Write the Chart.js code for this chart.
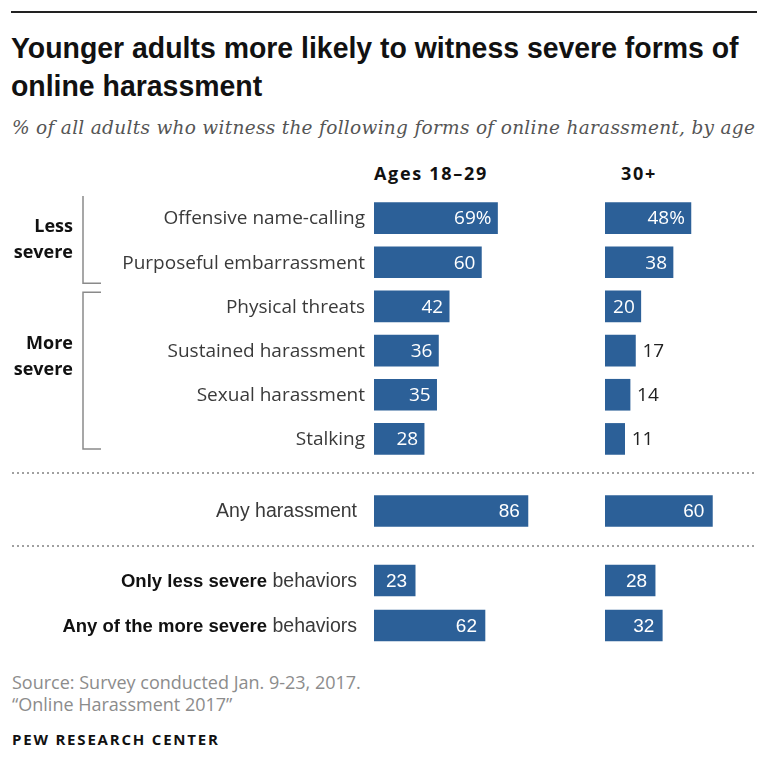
<!DOCTYPE html>
<html>
<head>
<meta charset="utf-8">
<script src="https://cdn.jsdelivr.net/npm/chart.js@4.4.1/dist/chart.umd.min.js"></script>
<style>
  body { margin: 0; width: 757px; height: 770px; overflow: hidden; background: #fff; position: relative; font-family: "Open Sans", sans-serif; }
  .abs { position: absolute; white-space: nowrap; }
  #rule { left: 11px; top: 11px; width: 746px; height: 2px; background: #222; }
  #title { left: 11px; top: 29px; font: bold 29px/38px "Liberation Sans", sans-serif; color: #111;
           transform: scaleX(0.98); transform-origin: 0 0; }
  #subtitle { left: 12px; top: 117px; font: italic 18.5px "DejaVu Serif", serif; letter-spacing: 0.3px; color: #555; }
  .colhead { top: 161px; font: bold 18px "Open Sans", sans-serif; letter-spacing: 1.7px; color: #111; }
  .dots { left: 12px; width: 745px; height: 2px;
          background-image: linear-gradient(to right, #a0a0a0 2px, transparent 2px); background-size: 5px 2px; }
  #source { left: 12px; top: 671px; font: 18px/22px "Open Sans", sans-serif; color: #8c8c8c; }
  #brand { left: 12px; top: 729px; font: bold 15px "Open Sans", sans-serif; letter-spacing: 1.8px; color: #111; }
  canvas { position: absolute; }
</style>
</head>
<body>
<div id="rule" class="abs"></div>
<div id="title" class="abs">Younger adults more likely to witness severe forms of<br>online harassment</div>
<div id="subtitle" class="abs">% of all adults who witness the following forms of online harassment, by age</div>
<div id="head0" class="abs colhead" style="left:374px"></div>
<div id="head1" class="abs colhead" style="left:621px"></div>

<canvas id="formsYoung" width="553" height="265" style="left:0;top:196px"></canvas>
<canvas id="formsOlder" width="179" height="265" style="left:605px;top:196px"></canvas>
<div class="abs dots" style="top:472px"></div>
<canvas id="anyYoung" width="553" height="44" style="left:0;top:489px"></canvas>
<canvas id="anyOlder" width="179" height="44" style="left:605px;top:489px"></canvas>
<div class="abs dots" style="top:545px"></div>
<canvas id="mixYoung" width="553" height="90" style="left:0;top:558px"></canvas>
<canvas id="mixOlder" width="179" height="90" style="left:605px;top:558px"></canvas>

<div id="source" class="abs">Source: Survey conducted Jan. 9-23, 2017.<br>“Online Harassment 2017”</div>
<div id="brand" class="abs">PEW RESEARCH CENTER</div>

<script>
// age columns
const ageGroups = ['Ages 18–29', '30+'];

// individual forms of harassment witnessed
const formLabels = ['Offensive name-calling', 'Purposeful embarrassment', 'Physical threats',
                    'Sustained harassment', 'Sexual harassment', 'Stalking'];
const formsYoung = [69, 60, 42, 36, 35, 28];
const formsOlder = [48, 38, 20, 17, 14, 11];

// any form at all
const anyLabels = ['Any harassment'];
const anyYoung = [86];
const anyOlder = [60];

// severity mix (bold part, plain part)
const mixLabels = [
  [['Only less severe', true], [' behaviors', false]],
  [['Any of the more severe', true], [' behaviors', false]]
];
const mixYoung = [23, 62];
const mixOlder = [28, 32];

// severity brackets over the forms rows
const severityGroups = [
  { name: ['Less', 'severe'], from: 0, to: 1 },
  { name: ['More', 'severe'], from: 2, to: 5 }
];

const BAR_COLOR = '#2c6098';
const LABEL_AREA = 374;   // width reserved left of the young bars
const X_MAX = 100;
const MIN_INSIDE = 20;    // smaller values get their label outside the bar
const groupLabelNudge = [0, -16];

document.getElementById('head0').textContent = ageGroups[0];
document.getElementById('head1').textContent = ageGroups[1];

// draws row labels, value labels and the severity brackets
function rowTextPlugin(labels, values, style) {
  return {
    id: 'rowText',
    afterDatasetsDraw(chart) {
      const ctx = chart.ctx;
      const area = chart.chartArea;
      const yScale = chart.scales.y;
      const bars = chart.getDatasetMeta(0).data;
      ctx.save();
      ctx.textBaseline = 'middle';

      if (labels) {
        labels.forEach((lab, i) => {
          const parts = typeof lab === 'string' ? [[lab, false]] : lab;
          let x = area.left - style.labelGap;
          const y = yScale.getPixelForValue(i) + 1;
          ctx.textAlign = 'right';
          for (let p = parts.length - 1; p >= 0; p--) {
            const [txt, bold] = parts[p];
            ctx.font = bold ? style.boldFont : style.labelFont;
            ctx.fillStyle = bold ? '#111' : '#3a3a3a';
            ctx.fillText(txt, x, y);
            x -= ctx.measureText(txt).width;
          }
        });
      }

      bars.forEach((bar, i) => {
        const v = values[i];
        const txt = (i === 0 && style.percentFirst) ? v + '%' : String(v);
        ctx.font = style.valueFont;
        if (v >= MIN_INSIDE) {
          ctx.fillStyle = '#fff';
          ctx.textAlign = 'right';
          ctx.fillText(txt, bar.x - style.valuePad, bar.y + 1);
        } else {
          ctx.fillStyle = '#222';
          ctx.textAlign = 'left';
          ctx.fillText(txt, bar.x + 7, bar.y + 1);
        }
      });

      if (style.groups) {
        const n = labels.length;
        const step = yScale.getPixelForValue(1) - yScale.getPixelForValue(0);
        ctx.strokeStyle = '#8a8a8a';
        ctx.lineWidth = 1.5;
        style.groups.forEach((g, gi) => {
          const top = g.from === 0 ? yScale.getPixelForValue(0) - 25 : yScale.getPixelForValue(g.from) - step / 2 + 8;
          const bot = g.to === n - 1 ? yScale.getPixelForValue(g.to) + 10 : yScale.getPixelForValue(g.to) + step / 2 - 1;
          ctx.beginPath();
          ctx.moveTo(101, top); ctx.lineTo(83, top); ctx.lineTo(83, bot); ctx.lineTo(101, bot);
          ctx.stroke();
          const mid = yScale.getPixelForValue((g.from + g.to) / 2) + groupLabelNudge[gi];
          ctx.font = style.boldFont;
          ctx.fillStyle = '#111';
          ctx.textAlign = 'right';
          ctx.fillText(g.name[0], 73, mid - 13);
          ctx.fillText(g.name[1], 73, mid + 13);
        });
      }
      ctx.restore();
    }
  };
}

function makeChart(id, labels, values, withLabels, style) {
  new Chart(document.getElementById(id), {
    type: 'bar',
    data: {
      labels: labels.map((l, i) => i),
      datasets: [{ data: values, backgroundColor: BAR_COLOR, barThickness: 31 }]
    },
    options: {
      indexAxis: 'y',
      responsive: false,
      animation: false,
      devicePixelRatio: 1,
      layout: { padding: { left: withLabels ? LABEL_AREA : 0, right: 0, top: 0, bottom: 0 } },
      scales: {
        x: { display: false, min: 0, max: X_MAX },
        y: { display: false }
      },
      plugins: { legend: { display: false }, tooltip: { enabled: false } }
    },
    plugins: [rowTextPlugin(withLabels ? labels : null, values, style)]
  });
}

const formsStyle = {
  labelFont: '19px "Open Sans"', boldFont: 'bold 18px "Open Sans"', valueFont: '19px "Open Sans"',
  labelGap: 9, valuePad: 6, percentFirst: true
};
const lowerStyle = {
  labelFont: '19.5px "Liberation Sans"', boldFont: 'bold 18.5px "Liberation Sans"',
  valueFont: '19px "Liberation Sans"', labelGap: 17, valuePad: 8, percentFirst: false
};

makeChart('formsYoung', formLabels, formsYoung, true, Object.assign({ groups: severityGroups }, formsStyle));
makeChart('formsOlder', formLabels, formsOlder, false, formsStyle);
makeChart('anyYoung', anyLabels, anyYoung, true, lowerStyle);
makeChart('anyOlder', anyLabels, anyOlder, false, lowerStyle);
makeChart('mixYoung', mixLabels, mixYoung, true, lowerStyle);
makeChart('mixOlder', mixLabels, mixOlder, false, lowerStyle);
</script>
</body>
</html>
